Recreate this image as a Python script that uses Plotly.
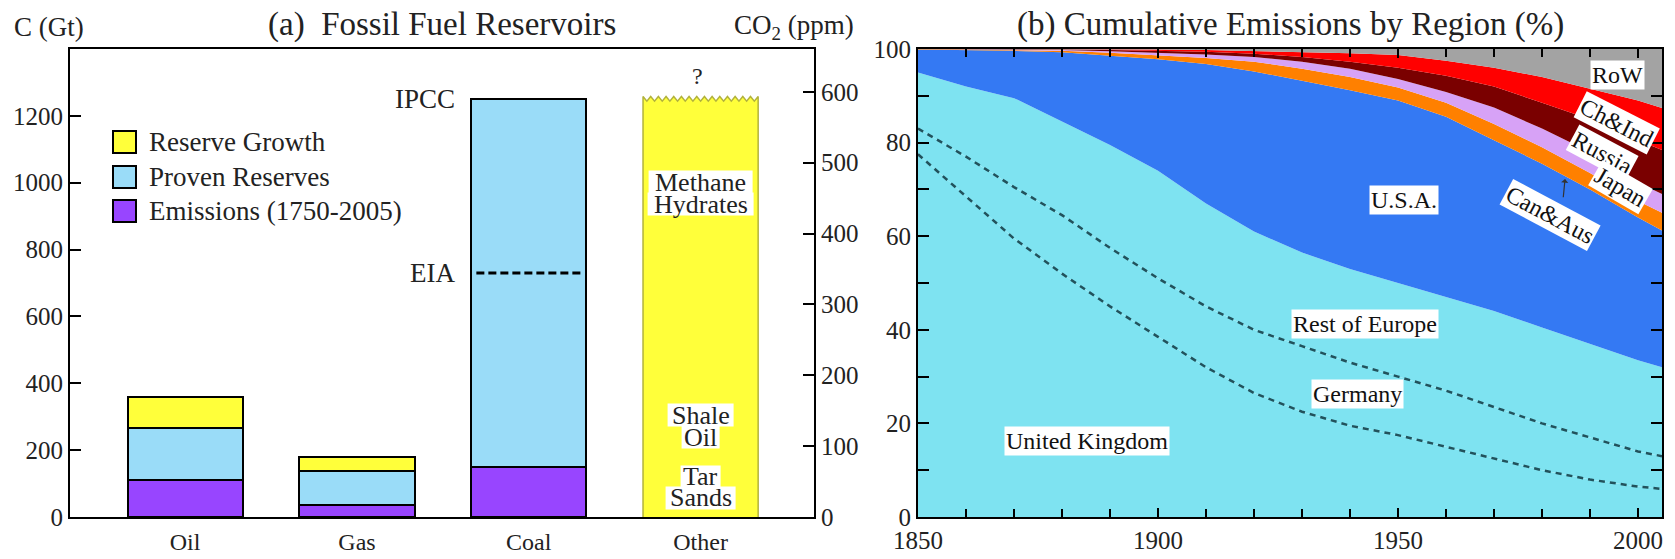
import plotly.graph_objects as go

W, H = 1675, 559

# ---------------- Panel (a): fossil fuel reservoirs (GtC) ----------------
fuels = ["Oil", "Gas", "Coal", "Other"]
emissions = [110, 36, 150, None]        # Emissions (1750-2005)
proven = [157, 102, 1100, None]          # Proven reserves
growth = [93, 42, None, None]            # Reserve growth
other_total = 1258                       # unconventional (methane hydrates, shale oil, tar sands)
eia_coal = 730                           # EIA coal estimate
gtc_per_ppm = 2.12                       # conversion for right axis

# ---------------- Panel (b): cumulative emissions by region (%) ----------------
years = [1850, 1860, 1870, 1880, 1890, 1900, 1910, 1920, 1930, 1940, 1950,
         1960, 1970, 1980, 1990, 2000, 2005]
uk = [77.5, 68.5, 59.5, 52, 45, 38.5, 32, 26.5, 22.5, 19.5, 17.5, 15, 12.5, 10, 8, 6.5, 6]
germany = [5.5, 8.5, 11, 12.5, 12.5, 12.5, 13, 13.5, 14, 13.5, 12.5, 12, 11, 10, 9, 7.5, 7]
rest_europe = [12, 15, 19, 20, 22, 23, 22, 21, 20, 20, 20, 20, 20.5, 20.5, 20, 19.5, 19]
usa = [4.9, 7.8, 10.1, 14.8, 19.1, 23.8, 29.8, 34.2, 36.7, 38.2, 39, 38.5, 36.5, 35, 33, 30.5, 29.2]
can_aus = [0.1, 0.1, 0.2, 0.3, 0.6, 0.9, 1.3, 2.1, 2.6, 2.8, 2.8, 3, 3.5, 3.5, 3.5, 3.5, 3.8]
japan = [0, 0.05, 0.1, 0.2, 0.3, 0.5, 0.7, 1.0, 1.5, 1.8, 1.8, 2.3, 3.5, 4, 4.5, 4, 4]
russia = [0, 0.05, 0.05, 0.1, 0.3, 0.4, 0.6, 0.7, 1.0, 1.5, 2.4, 3.5, 4.5, 5.5, 7, 9, 9.4]
china_india = [0, 0, 0.05, 0.1, 0.15, 0.3, 0.4, 0.6, 1.1, 1.8, 2.7, 3.2, 4, 5.5, 6.5, 8.5, 9]
row = [0, 0, 0, 0, 0.05, 0.1, 0.2, 0.4, 0.6, 0.9, 1.3, 2.5, 4, 6, 8.5, 11, 12.6]

FONT = "Liberation Serif"
YELLOW = "#FFFF3A"
LBLUE = "#9ADCF8"
PURPLE = "#9845FF"
CYAN = "#7EE3F1"
BLUE = "#3479F3"
ORANGE = "#FF8000"
LAV = "#D7A2F6"
DRED = "#7A0000"
RED = "#FF0000"
GRAY = "#A3A3A3"


def px(x):
    return x / W


def py(y):
    return 1 - y / H


fig = go.Figure()

xpos = list(range(len(fuels)))
bw = 0.67
for name, vals, col in [("Emissions (1750-2005)", emissions, PURPLE),
                        ("Proven Reserves", proven, LBLUE),
                        ("Reserve Growth", growth, YELLOW)]:
    fig.add_trace(go.Bar(x=xpos, y=vals, width=bw, name=name,
                         marker=dict(color=col, line=dict(color="black", width=2)),
                         xaxis="x", yaxis="y", showlegend=False, hoverinfo="skip"))

# Other: yellow column with a wavy (uncertain) top
half = bw / 2
oc = xpos[3]
nteeth = 15
xs = [oc - half, oc - half]
ys = [0, other_total]
for i in range(1, 2 * nteeth):
    xs.append(oc - half + i * (2 * half) / (2 * nteeth))
    ys.append(other_total - 14 if i % 2 else other_total)
xs += [oc + half, oc + half]
ys += [other_total, 0]
fig.add_trace(go.Scatter(x=xs, y=ys, fill="toself", fillcolor=YELLOW, mode="lines",
                         line=dict(color="#B2B23C", width=1.5), xaxis="x", yaxis="y",
                         showlegend=False, hoverinfo="skip"))

# EIA dashed line on coal bar
cc = xpos[2]
fig.add_trace(go.Scatter(x=[cc - half + 0.03, cc + half - 0.03], y=[eia_coal, eia_coal], mode="lines",
                         line=dict(color="black", width=3, dash="8px,4px"), xaxis="x", yaxis="y",
                         showlegend=False, hoverinfo="skip"))

# invisible trace to activate right ppm axis
fig.add_trace(go.Scatter(x=[None], y=[None], xaxis="x", yaxis="y2", showlegend=False, hoverinfo="skip"))

# ---------------- Panel (b) stacked areas ----------------
dash_line = dict(color="#22525C", width=2.5, dash="6px,5px")
series = [
    ("United Kingdom", uk, CYAN, dash_line),
    ("Germany", germany, CYAN, dash_line),
    ("Rest of Europe", rest_europe, CYAN, dict(width=0)),
    ("U.S.A.", usa, BLUE, dict(width=0)),
    ("Can&Aus", can_aus, ORANGE, dict(width=0)),
    ("Japan", japan, LAV, dict(width=0)),
    ("Russia", russia, DRED, dict(width=0)),
    ("Ch&Ind", china_india, RED, dict(width=0)),
    ("RoW", row, GRAY, dict(width=0)),
]
for name, vals, col, ln in series:
    fig.add_trace(go.Scatter(x=years, y=vals, name=name, stackgroup="one", mode="lines",
                             fillcolor=col, line=dict(color=ln.get("color", col), width=ln["width"],
                                                      dash=ln.get("dash", "solid")),
                             xaxis="x2", yaxis="y3", showlegend=False, hoverinfo="skip"))

ydom = [py(517), py(49)]
axis_common = dict(showline=True, linecolor="black", linewidth=2, showgrid=False, zeroline=False,
                   automargin=False, tickcolor="black", tickwidth=2,
                   tickfont=dict(family=FONT, size=25, color="#222"))

fig.update_layout(
    width=W, height=H, margin=dict(l=0, r=0, t=0, b=0, pad=0), autosize=False,
    paper_bgcolor="white", plot_bgcolor="white", barmode="stack",
    font=dict(family=FONT, color="#222"),
    xaxis=dict(domain=[px(70), px(814)], range=[-0.67, 3.66], tickvals=xpos, ticktext=fuels,
               ticks="", mirror=True, anchor="y", ticklabelstandoff=2, **axis_common),
    yaxis=dict(domain=ydom, range=[0, 1400], tickvals=[0, 200, 400, 600, 800, 1000, 1200],
               ticks="inside", ticklen=11, anchor="x", **axis_common),
    yaxis2=dict(range=[0, 1400 / gtc_per_ppm], tickvals=[0, 100, 200, 300, 400, 500, 600],
                overlaying="y", side="right", anchor="x", ticks="inside", ticklen=11, **axis_common),
    xaxis2=dict(domain=[px(918), px(1662)], range=[1850, 2005], tickvals=[1850, 1900, 1950, 2000],
                ticks="inside", ticklen=9, mirror="ticks", anchor="y3",
                minor=dict(dtick=10, tick0=1850, ticks="inside", ticklen=8, tickwidth=2, tickcolor="black"),
                **axis_common),
    yaxis3=dict(domain=ydom, range=[0, 100], tickvals=[0, 20, 40, 60, 80, 100],
                ticks="inside", ticklen=11, mirror="ticks", anchor="x2",
                minor=dict(dtick=10, ticks="inside", ticklen=11, tickwidth=2, tickcolor="black"),
                **axis_common),
)
fig.update_xaxes(tickfont=dict(size=24), selector=dict(anchor="y"))

ann = []
shapes = []
# headings
ann.append(dict(text="C (Gt)", x=px(12), y=py(27), xref="paper", yref="paper", xanchor="left", yanchor="middle",
                showarrow=False, font=dict(size=27)))
ann.append(dict(text="(a)  Fossil Fuel Reservoirs", x=px(442), y=py(25), xref="paper", yref="paper",
                xanchor="center", yanchor="middle", showarrow=False, font=dict(size=33)))
ann.append(dict(text="CO<sub>2</sub> (ppm)", x=px(794), y=py(27), xref="paper", yref="paper",
                xanchor="center", yanchor="middle", showarrow=False, font=dict(size=27)))
ann.append(dict(text="(b) Cumulative Emissions by Region (%)", x=px(1290), y=py(25), xref="paper", yref="paper",
                xanchor="center", yanchor="middle", showarrow=False, font=dict(size=33)))

# custom legend
legend_items = [("Reserve Growth", YELLOW, 142), ("Proven Reserves", LBLUE, 177),
                ("Emissions (1750-2005)", PURPLE, 211)]
for label, col, yc in legend_items:
    shapes.append(dict(type="rect", xref="paper", yref="paper", x0=px(113), x1=px(136),
                       y0=py(yc + 11), y1=py(yc - 11), fillcolor=col, line=dict(color="black", width=2)))
    ann.append(dict(text=label, x=px(147), y=py(yc), xref="paper", yref="paper", xanchor="left",
                    yanchor="middle", showarrow=False, font=dict(size=27)))

# panel (a) labels
ann.append(dict(text="IPCC", x=cc - 0.42, y=proven[2] + emissions[2], xref="x", yref="y", xanchor="right",
                yanchor="middle", showarrow=False, font=dict(size=27)))
ann.append(dict(text="EIA", x=cc - 0.42, y=eia_coal, xref="x", yref="y", xanchor="right",
                yanchor="middle", showarrow=False, font=dict(size=27)))
ann.append(dict(text="?", x=oc - 0.02, y=other_total + 60, xref="x", yref="y", showarrow=False,
                font=dict(size=24)))
gt_per_px = 1400 / 468.0
unit_per_px = 1 / 171.8
for word, yv, hw in [("Methane", 1002, 52), ("Hydrates", 936, 53), ("Shale", 305, 33), ("Oil", 239, 19),
                     ("Tar", 120, 20), ("Sands", 57, 35)]:
    shapes.append(dict(type="rect", xref="x", yref="y", layer="above",
                       x0=oc - hw * unit_per_px, x1=oc + hw * unit_per_px,
                       y0=yv - 11.5 * gt_per_px, y1=yv + 11.5 * gt_per_px,
                       fillcolor="white", line=dict(width=0)))
    ann.append(dict(text=word, x=oc, y=yv, xref="x", yref="y", showarrow=False,
                    font=dict(size=26)))

# panel (b) labels
for text, xv, yv, ang in [("United Kingdom", 1885.2, 16.3, 0), ("Rest of Europe", 1943.2, 41.3, 0),
                          ("Germany", 1941.5, 26.3, 0), ("U.S.A.", 1951.2, 67.7, 0), ("RoW", 1995.8, 94.4, 0),
                          ("Ch&amp;Ind", 1995.6, 84.1, 27), ("Russia", 1992.5, 77.7, 28),
                          ("Japan", 1996.3, 70.5, 30), ("Can&amp;Aus", 1981.7, 64.5, 28)]:
    ann.append(dict(text=text, x=xv, y=yv, xref="x2", yref="y3", showarrow=False, bgcolor="white",
                    borderpad=1, textangle=ang, font=dict(size=24, color="#111")))
ann.append(dict(text="", x=1984.8, y=72.2, xref="x2", yref="y3", ax=1984.4, ay=68.0, axref="x2", ayref="y3",
                showarrow=True, arrowhead=1, arrowsize=1, arrowwidth=1.2, arrowcolor="#333"))

fig.update_layout(annotations=ann, shapes=shapes)

fig.write_html("out.html", config={"displayModeBar": False},
               post_script="document.body.style.margin='0px';document.body.style.overflow='hidden';")
